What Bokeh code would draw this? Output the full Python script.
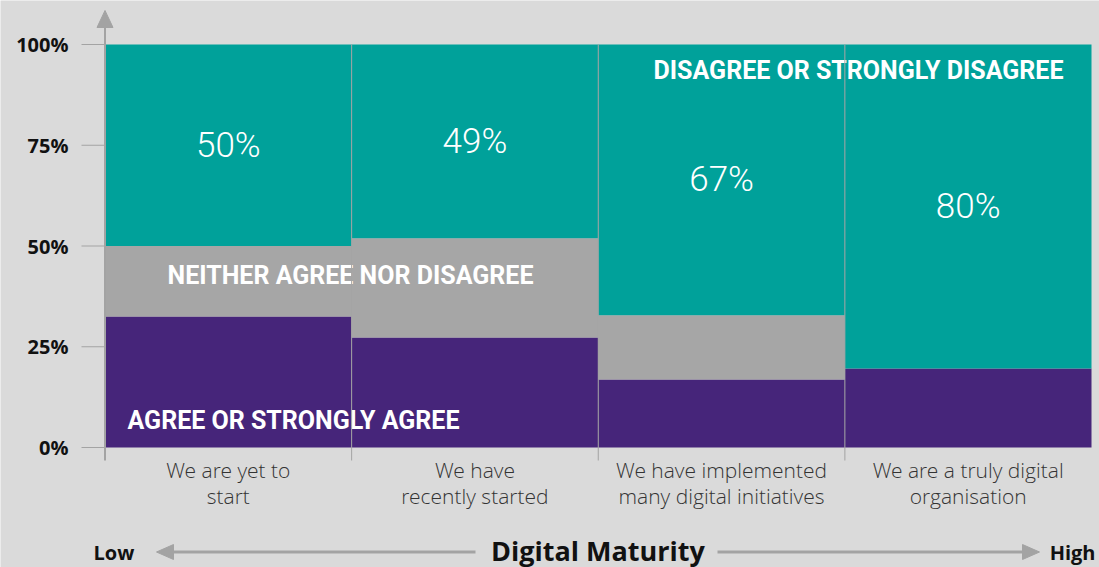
from bokeh.plotting import figure
from bokeh.models import Range1d, ColumnDataSource
from bokeh.core.properties import value
from bokeh.embed import file_html
from bokeh.resources import INLINE

# ---------------- data ----------------
categories = [
    "We are yet to\nstart",
    "We have\nrecently started",
    "We have implemented\nmany digital initiatives",
    "We are a truly digital\norganisation",
]
agree = [32.5, 27.3, 16.9, 19.6]
neither = [17.5, 24.6, 15.9, 0.0]
disagree = [50.0, 48.1, 67.2, 80.4]
disagree_labels = ["50%", "49%", "67%", "80%"]
y_ticks = [0, 25, 50, 75, 100]
y_tick_labels = ["0%", "25%", "50%", "75%", "100%"]
series_names = ["AGREE OR STRONGLY AGREE", "NEITHER AGREE NOR DISAGREE", "DISAGREE OR STRONGLY DISAGREE"]
axis_title = "Digital Maturity"
low_label = "Low"
high_label = "High"

# ---------------- styles ----------------
BG = "#dadada"
PURPLE = "#46257a"
GRAY = "#a6a6a6"
TEAL = "#00a19a"
AX = "#a3a3a3"

W, H = 1099, 567
SX = 246.625          # px per category
SY = 4.03             # px per percent
XS = -104.5 / SX
XE = XS + W / SX
YE = 100 + 44 / SY
YS = YE - H / SY


def dx(ix):
    return XS + ix / SX


def dy(iy):
    return YE - iy / SY


p = figure(width=W, height=H, x_range=Range1d(XS, XE), y_range=Range1d(YS, YE),
           min_border=0, toolbar_location=None, output_backend="svg",
           x_axis_location=None, y_axis_location=None)
p.xgrid.visible = False
p.ygrid.visible = False
p.outline_line_color = None
p.background_fill_color = BG
p.border_fill_color = BG

xs = [i + 0.5 for i in range(len(categories))]
src = ColumnDataSource(dict(x=xs, agree=agree, neither=neither, disagree=disagree))
p.vbar_stack(["agree", "neither", "disagree"], x="x", width=1.0, source=src,
             fill_color=[PURPLE, GRAY, TEAL], line_color=None)

# value labels in the middle of the teal segment
mids = [a + n + d / 2 for a, n, d in zip(agree, neither, disagree)]
p.text(x=xs, y=mids, text=disagree_labels, text_font=value("Roboto Light"),
       text_font_size="35px", text_color="white", text_align="center",
       text_baseline="middle")

# series labels
p.text(x=[dx(293), dx(350), dx(858)], y=[dy(420), dy(275), dy(70)], text=series_names,
       text_font=value("Roboto"), text_font_style="bold", text_font_size="25px",
       text_color="white", text_align="center", text_baseline="middle")

# separators / category ticks
seps = [1, 2, 3]
p.segment(x0=seps, y0=[100] * 3, x1=seps, y1=[dy(460)] * 3, line_color=AX, line_width=1)

# y axis with arrow
p.segment(x0=[0], y0=[dy(27)], x1=[0], y1=[dy(460)], line_color=AX, line_width=2)
p.patch(x=[dx(96.5), dx(104.5), dx(112.5)], y=[dy(27), dy(10), dy(27)],
        fill_color=AX, line_color=AX)
p.segment(x0=[dx(81)] * len(y_ticks), y0=y_ticks, x1=[0] * len(y_ticks), y1=y_ticks,
          line_color=AX, line_width=1.2)
p.text(x=[dx(68)] * len(y_ticks), y=y_ticks, text=y_tick_labels,
       text_font=value("Open Sans"), text_font_style="bold", text_font_size="20px",
       text_color="#111111", text_align="right", text_baseline="middle")

# category labels (two lines)
line1 = [c.split("\n")[0] for c in categories]
line2 = [c.split("\n")[1] for c in categories]
p.text(x=xs, y=[dy(469)] * 4, text=line1, text_font=value("Open Sans Light"),
       text_font_size="21px", text_color="#333333", text_align="center", text_baseline="middle")
p.text(x=xs, y=[dy(495.5)] * 4, text=line2, text_font=value("Open Sans Light"),
       text_font_size="21px", text_color="#333333", text_align="center", text_baseline="middle")

# bottom maturity arrow
yb = 551.5
p.segment(x0=[dx(170), dx(717)], y0=[dy(yb)] * 2, x1=[dx(475), dx(1022)], y1=[dy(yb)] * 2,
          line_color=AX, line_width=3)
p.patches(xs=[[dx(156), dx(173), dx(173)], [dx(1039), dx(1022), dx(1022)]],
          ys=[[dy(yb), dy(yb - 7.5), dy(yb + 7.5)], [dy(yb), dy(yb - 7.5), dy(yb + 7.5)]],
          fill_color=AX, line_color=AX)
p.text(x=[dx(93)], y=[dy(yb)], text=[low_label], text_font=value("Open Sans"),
       text_font_style="bold", text_font_size="20px", text_color="#111111",
       text_align="left", text_baseline="middle")
p.text(x=[dx(1095)], y=[dy(yb)], text=[high_label], text_font=value("Open Sans"),
       text_font_style="bold", text_font_size="20px", text_color="#111111",
       text_align="right", text_baseline="middle")
p.text(x=[dx(597.5)], y=[dy(yb - 2)], text=[axis_title], text_font=value("Open Sans"),
       text_font_style="bold", text_font_size="27px", text_color="#111111",
       text_align="center", text_baseline="middle")

open("out.html", "w").write(file_html(p, INLINE))
